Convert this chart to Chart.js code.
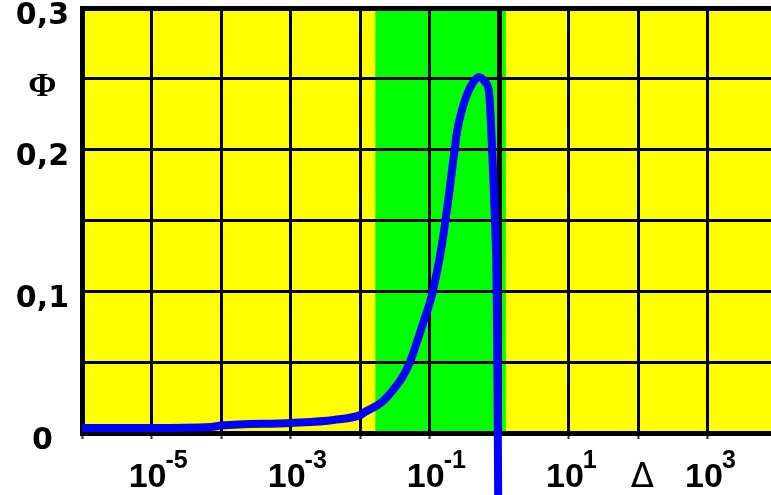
<!DOCTYPE html>
<html><head><meta charset="utf-8">
<script src="https://cdn.jsdelivr.net/npm/chart.js@4.4.1/dist/chart.umd.min.js"></script>
<style>html,body{margin:0;padding:0;background:#fff;overflow:hidden}canvas{display:block}</style>
</head><body>
<canvas id="c" width="771" height="495"></canvas>
<script>
// ---- data ----
const curveX = [1e-6, 1e-5, 7.1e-5, 1e-4, 1e-3, 4.18e-3, 0.01, 0.01169, 0.01982, 0.02972, 0.04055, 0.052, 0.0647, 0.0804, 0.1, 0.1107, 0.1312, 0.1452, 0.1663, 0.1903, 0.2178, 0.2493, 0.2958, 0.35, 0.415, 0.508, 0.622, 0.713, 0.762, 0.816, 0.873, 0.904, 0.919, 0.941, 0.951, 0.967];
const curveY = [0.0035, 0.0035, 0.0042, 0.0053, 0.0071, 0.0092, 0.0127, 0.0148, 0.0212, 0.0304, 0.0395, 0.0501, 0.0635, 0.0776, 0.0918, 0.1002, 0.1172, 0.1292, 0.1482, 0.1694, 0.1927, 0.2139, 0.2294, 0.24, 0.2471, 0.2513, 0.2478, 0.24, 0.216, 0.1821, 0.1454, 0.1221, 0.0939, 0.0374, 0.0, -0.0614];
const xDecades = [1e-6, 1e-5, 1e-4, 1e-3, 1e-2, 1e-1, 1e0, 1e1, 1e2, 1e3];
const xLabelValues = [1e-5, 1e-3, 1e-1, 1e1, 1e3];
const xLabelExponents = ['-5', '-3', '-1', '1', '3'];
const deltaValue = 1e2;
const deltaLabel = 'Δ';
const yTickValues = [0, 0.05, 0.1, 0.15, 0.2, 0.25, 0.3];
const yTickLabels = ['0', '', '0,1', '', '0,2', 'Φ', '0,3'];
const greenBand = [0.0165, 1.24];
const xRange = [1e-6, 8054];
const yRange = [0, 0.3];

const bgPlugin = {
  id: 'bg',
  beforeDraw(chart) {
    const {ctx, chartArea: a, scales: {x}} = chart;
    ctx.save();
    ctx.fillStyle = '#ffff00';
    ctx.fillRect(a.left, a.top, a.right - a.left, a.bottom - a.top);
    const x0 = x.getPixelForValue(greenBand[0]);
    const x1 = x.getPixelForValue(greenBand[1]);
    ctx.fillStyle = '#00ff00';
    ctx.fillRect(x0, a.top, x1 - x0, a.bottom - a.top);
    ctx.restore();
  }
};

const xLabelPlugin = {
  id: 'xlabels',
  afterDraw(chart) {
    const {ctx, scales: {x}} = chart;
    ctx.save();
    ctx.fillStyle = '#000';
    ctx.textBaseline = 'alphabetic';
    ctx.textAlign = 'left';
    xLabelValues.forEach((v, i) => {
      const gx = x.getPixelForValue(v);
      ctx.font = 'bold 34px "Liberation Sans", Arial, sans-serif';
      const w = ctx.measureText('10').width;
      const left = gx - 4 - w / 2;
      ctx.fillText('10', left, 487);
      ctx.font = 'bold 25px "Liberation Sans", Arial, sans-serif';
      ctx.fillText(xLabelExponents[i], left + w - 1, 468);
    });
    const dx = x.getPixelForValue(deltaValue);
    ctx.font = '34px "DejaVu Sans", sans-serif';
    ctx.textAlign = 'center';
    ctx.fillText(deltaLabel, dx + 4, 487);
    ctx.restore();
  }
};

const zeroPad = s => { s.paddingTop = 0; s.paddingBottom = 0; s.paddingLeft = 0; s.paddingRight = 0; };

new Chart(document.getElementById('c'), {
  type: 'line',
  data: {
    datasets: [{
      data: curveX.map((v, i) => ({x: v, y: curveY[i]})),
      borderColor: '#0000ff',
      borderWidth: 8,
      pointRadius: 0,
      fill: false,
      cubicInterpolationMode: 'monotone',
      borderCapStyle: 'round',
      borderJoinStyle: 'round',
      clip: {left: 0, top: 5, right: 0, bottom: false}
    }]
  },
  options: {
    responsive: false,
    animation: false,
    devicePixelRatio: 1,
    layout: {padding: {top: 8, left: 0, right: 0, bottom: 0}, autoPadding: false},
    plugins: {legend: {display: false}, tooltip: {enabled: false}},
    scales: {
      x: {
        type: 'logarithmic',
        min: xRange[0], max: xRange[1],
        bounds: 'data',
        afterBuildTicks: s => { s.ticks = xDecades.map(v => ({value: v})); },
        afterFit: s => { s.height = 62; zeroPad(s); },
        ticks: {display: false},
        grid: {
          color: '#000',
          lineWidth: c => (c.tick && c.tick.value === 1) ? 5 : 3,
          drawTicks: true,
          tickLength: 6,
          tickColor: '#333',
          tickWidth: 2
        },
        border: {display: true, color: '#000', width: 5}
      },
      y: {
        type: 'linear',
        min: yRange[0], max: yRange[1],
        afterBuildTicks: s => { s.ticks = yTickValues.map(v => ({value: v})); },
        afterFit: s => { s.width = 82; zeroPad(s); },
        ticks: {
          callback: (v) => { const i = yTickValues.findIndex(t => Math.abs(t - v) < 1e-9); return i >= 0 ? yTickLabels[i] : ''; },
          font: c => (c.tick && Math.abs(c.tick.value - 0.25) < 1e-9)
            ? {family: '"Liberation Serif", serif', size: 34, weight: 'bold'}
            : {family: '"DejaVu Sans", sans-serif', size: 30, weight: 'bold'},
          color: '#000',
          padding: 13,
          crossAlign: 'center',
          labelOffset: 8,
          autoSkip: false
        },
        grid: {
          color: '#000',
          lineWidth: c => (c.tick && c.tick.value === 0.3) ? 5 : 3,
          drawTicks: false
        },
        border: {display: true, color: '#000', width: 5}
      }
    }
  },
  plugins: [bgPlugin, xLabelPlugin]
});
</script>
</body></html>
